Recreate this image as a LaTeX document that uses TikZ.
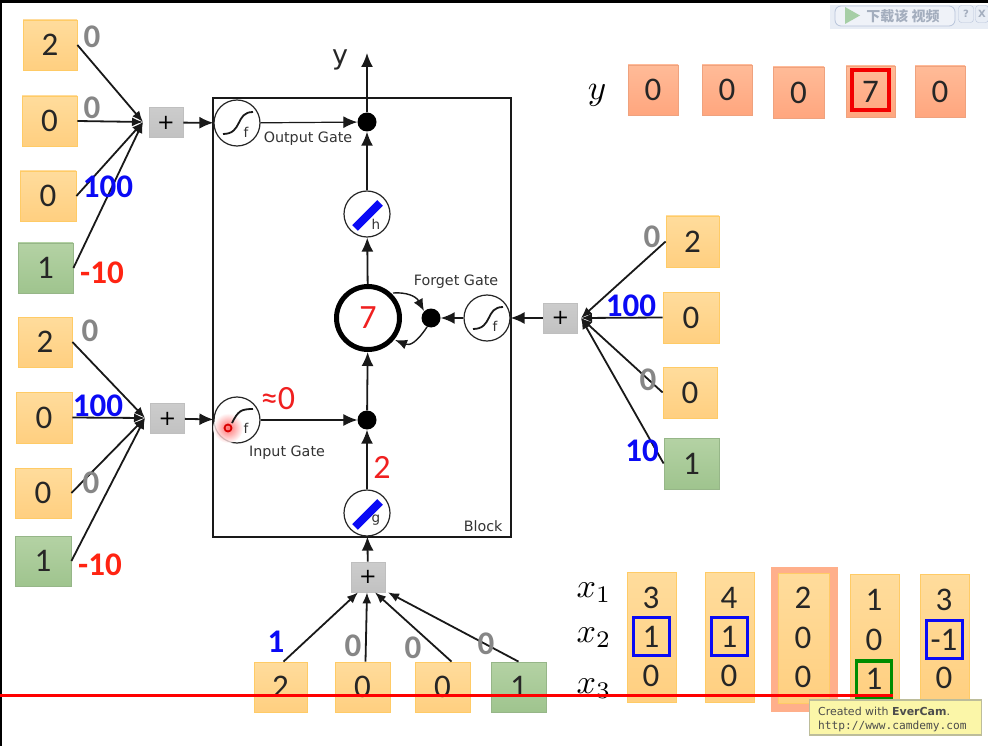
\documentclass[tikz,border=0pt]{standalone}
\usepackage{fontspec}
\setmainfont{Carlito}
\newfontfamily\dv{DejaVu Sans}
\newfontfamily\dvm{DejaVu Sans Mono}
\newfontfamily\cjk{Noto Sans CJK SC}
\usetikzlibrary{arrows.meta,calc}
\definecolor{oT}{HTML}{FFDC9C}\definecolor{oB}{HTML}{FFCF80}\definecolor{oE}{HTML}{FFCB66}
\definecolor{gT}{HTML}{B4D2A4}\definecolor{gB}{HTML}{9FC48E}\definecolor{gE}{HTML}{96B688}
\definecolor{sT}{HTML}{FFBB98}\definecolor{sB}{HTML}{FFA67E}\definecolor{sE}{HTML}{EFA27E}
\definecolor{wgray}{HTML}{868686}\definecolor{wblue}{HTML}{0A0AF5}\definecolor{wred}{HTML}{FF2412}
\definecolor{lred}{HTML}{F02020}\definecolor{txt}{HTML}{333333}
\definecolor{tipfill}{HTML}{FBF6A8}\definecolor{tipedge}{HTML}{BDBD9A}
\definecolor{panel}{HTML}{E8EDF5}\definecolor{panedge}{HTML}{B8C4DA}\definecolor{cjkgray}{HTML}{A4AEBE}
\tikzset{
 numtext/.style={font=\fontsize{33}{33}\selectfont,text=black!85},
 basebox/.style={rectangle,draw,line width=.8pt,inner sep=0pt,numtext},
 obox/.style={basebox,draw=oE,top color=oT,bottom color=oB},
 gbox/.style={basebox,draw=gE,top color=gT,bottom color=gB},
 sbox/.style={basebox,draw=sE,top color=sT,bottom color=sB},
 plusbox/.style={rectangle,draw=black!25,line width=.8pt,top color=black!20,bottom color=black!24,inner sep=0pt,minimum width=34pt,minimum height=30pt,font=\dv\fontsize{21}{21}\selectfont},
 gate/.style={circle,draw=black!85,line width=1.2pt,fill=white,inner sep=0pt,minimum size=46pt},
 dotn/.style={circle,fill=black,inner sep=0pt,minimum size=19pt},
 cell/.style={circle,draw=black,line width=5pt,fill=white,inner sep=0pt,minimum size=63pt},
 conn/.style={line width=1.8pt,black!90,-{Latex[length=14pt,width=12pt]}},
 thinconn/.style={line width=1.2pt,black!90,-{Latex[length=14pt,width=12pt]}},
 wire/.style={line width=1.8pt,black!90,-{Latex[length=11pt,width=9pt]}},
 loopw/.style={line width=1.4pt,black!90,-{Latex[length=12pt,width=10pt]}},
 gatelabel/.style={font=\dv\fontsize{14.3}{14.3}\selectfont,text=txt},
 gateletter/.style={font=\dv\fontsize{13.5}{13.5}\selectfont,text=txt},
 weight/.style={font=\bfseries\fontsize{33}{33}\selectfont},
 wg/.style={weight,text=wgray},wb/.style={weight,text=wblue},wr/.style={weight,text=wred},
 redval/.style={font=\fontsize{34}{34}\selectfont,text=lred},
 hl/.style={draw,line width=3.6pt,fill=none,inner sep=0pt},
 colnum/.style={numtext,inner sep=0pt},
 xlab/.style={scale=3.4,inner sep=0pt},
 sigcurve/.style={line width=1.8pt,black!90}
}
\newcommand{\sigm}[1]{\draw[sigcurve] ($(#1)+(-14,11)$) .. controls ($(#1)+(6,11)$) and ($(#1)+(-2,-11)$) .. ($(#1)+(16,-11)$);}
\begin{document}
\begin{tikzpicture}[x=1pt,y=-1pt]
\useasboundingbox (0,0) rectangle (988,746);
\fill[white] (0,0) rectangle (988,746);
\fill[black] (0,0) rectangle (988,3);
\fill[black] (0,0) rectangle (2,746);

% Block
\node[draw=black!90,line width=2pt,minimum width=298pt,minimum height=439pt,inner sep=0pt] (block) at (362,317.5) {};
\node[gatelabel,anchor=east] (blocklab) at (506,526) {Block};

% gates
\node[gate] (fo) at (237,123) {};
\node[gate] (fi) at (237,420) {};
\node[gate] (ff) at (487,318) {};
\node[gate] (h) at (367,214) {};
\node[gate] (g) at (367,513) {};
\node[dotn] (dout) at (367,122) {};
\node[dotn] (din) at (367,420) {};
\node[dotn] (dfor) at (431,318) {};
\node[cell] (cell) at (368,318) {};
\node[redval] (cellv) at (368,318) {7};
\coordinate (yout) at (367,53);

% input gate highlight
\shade[inner color=red!70,outer color=white,opacity=.8] (228,428) circle (15);
\draw[line width=1.8pt,red!85!black] (228,428) circle (3.5);

% sigmoid curves
\sigm{fo}\sigm{ff}
\draw[sigcurve] (232,423) .. controls (238,411) and (241,409) .. (253,409);
\draw[line width=8pt,wblue] ($(h)+(-12,14)$) -- ($(h)+(13,-11)$);
\draw[line width=8pt,wblue] ($(g)+(-12,14)$) -- ($(g)+(13,-11)$);
\node[gateletter] (lf1) at (246,132) {f};
\node[gateletter] (lf2) at (246,428) {f};
\node[gateletter] (lf3) at (495,326) {f};
\node[gateletter] (lh) at (376,224) {h};
\node[gateletter] (lg) at (376,520) {g};

% gate labels
\node[gatelabel] (lo) at (308,139) {Output Gate};
\node[gatelabel] (li) at (287,453) {Input Gate};
\node[gatelabel] (lff) at (456,282) {Forget Gate};
\node[font=\dv\fontsize{27}{27}\selectfont,text=black!85] (ylab) at (340,60) {y};
\node[redval] (vin) at (278,399) {≈0};
\node[redval] (vg) at (382,467) {2};

% internal connectors
\draw[conn] (dout) -- (yout);
\draw[conn] (h) -- (dout);
\draw[conn] (cell) -- (h);
\draw[conn] (din) -- (cell);
\draw[conn] (g) -- (din);
\draw[thinconn] (fo) -- (dout);
\draw[thinconn] (fi) -- (din);
\draw[conn] (ff) -- (dfor);
\draw[loopw] ($(cell)+(25,-25)$) .. controls ($(cell)+(38,-26)$) and ($(cell)+(48,-22)$) .. ($(dfor)+(-7,-7)$);
\draw[loopw] ($(dfor)+(-4,9)$) .. controls ($(dfor)+(-14,24)$) and ($(cell)+(42,28)$) .. ($(cell)+(27,22)$);

% plus boxes
\node[plusbox] (p1) at (166,122.5) {+};
\node[plusbox] (p2) at (167.5,418.5) {+};
\node[plusbox] (p3) at (560.5,318) {+};
\node[plusbox] (p4) at (368,577) {+};
\draw[conn] (p1) -- (fo);
\draw[conn] (p2) -- (fi);
\draw[conn] (p3) -- (ff);
\draw[conn] (p4) -- (g);
\coordinate (hub1) at (143,122);
\coordinate (hub2) at (145,418);
\coordinate (hub3) at (581,318);

% upper left inputs
\node[obox,minimum width=54pt,minimum height=50pt] (a1) at (50,45) {2};
\node[obox,minimum width=55pt,minimum height=50pt] (a2) at (49.5,121) {0};
\node[obox,minimum width=56pt,minimum height=50pt] (a3) at (48,196) {0};
\node[gbox,minimum width=55pt,minimum height=50pt] (a4) at (45.5,268) {1};
\foreach \n in {a1,a2,a3,a4}{\draw[wire] (\n.east) -- (hub1);}
\node[wg] (wa1) at (92,37) {0};
\node[wg] (wa2) at (92,108) {0};
\node[wb] (wa3) at (108,187) {100};
\node[wr] (wa4) at (102,273) {-10};

% lower left inputs
\node[obox,minimum width=54pt,minimum height=50pt] (b1) at (45,342) {2};
\node[obox,minimum width=56pt,minimum height=51pt] (b2) at (44,417.5) {0};
\node[obox,minimum width=56pt,minimum height=50pt] (b3) at (43,493) {0};
\node[gbox,minimum width=56pt,minimum height=50pt] (b4) at (43,561) {1};
\foreach \n in {b1,b2,b3,b4}{\draw[wire] (\n.east) -- (hub2);}
\node[wg] (wb1) at (90,331) {0};
\node[wb] (wb2) at (98,406) {100};
\node[wg] (wb3) at (91,483) {0};
\node[wr] (wb4) at (100,565) {-10};

% right inputs
\node[obox,minimum width=53pt,minimum height=51pt] (c1) at (692.5,241.5) {2};
\node[obox,minimum width=56pt,minimum height=51pt] (c2) at (691,317.5) {0};
\node[obox,minimum width=54pt,minimum height=51pt] (c3) at (690,392.5) {0};
\node[gbox,minimum width=55pt,minimum height=51pt] (c4) at (691.5,463.5) {1};
\foreach \n in {c1,c2,c3,c4}{\draw[wire] (\n.west) -- (hub3);}
\node[wg] (wc1) at (652,237) {0};
\node[wb] (wc2) at (631,306) {100};
\node[wg] (wc3) at (648,380) {0};
\node[wb] (wc4) at (642,451) {10};

% bottom inputs
\node[obox,minimum width=53pt,minimum height=50pt] (d1) at (280.5,687) {2};
\node[obox,minimum width=55pt,minimum height=50pt] (d2) at (362.5,687) {0};
\node[obox,minimum width=55pt,minimum height=50pt] (d3) at (442.5,687) {0};
\node[gbox,minimum width=55pt,minimum height=50pt] (d4) at (518.5,687) {1};
\draw[wire] ([xshift=3pt]d1.north) -- ([xshift=-10pt]p4.south);
\draw[wire] ([xshift=3pt]d2.north) -- ([xshift=-1pt]p4.south);
\draw[wire] ([xshift=9pt]d3.north) -- ([xshift=7pt]p4.south);
\draw[wire] (d4.north) -- ([xshift=20pt]p4.south);
\node[wb] (wd1) at (276,642) {1};
\node[wg] (wd2) at (353,646) {0};
\node[wg] (wd3) at (413,648) {0};
\node[wg] (wd4) at (486,644) {0};

% output row
\node[scale=3.5] (ymath) at (597,95) {$y$};
\node[sbox,minimum width=50pt,minimum height=50pt] (y1) at (653,90) {0};
\node[sbox,minimum width=50pt,minimum height=50pt] (y2) at (727,90) {0};
\node[sbox,minimum width=51pt,minimum height=51pt] (y3) at (798.5,92.5) {0};
\node[sbox,minimum width=49pt,minimum height=51pt] (y4) at (870.5,91.5) {7};
\node[sbox,minimum width=50pt,minimum height=51pt] (y5) at (940,91.5) {0};
\node[hl,draw=red!95!black,minimum width=37pt,minimum height=40pt] (ymark) at (870.5,90) {};

% input sequence
\node[rectangle,fill=sB!90,inner sep=0pt,minimum width=67pt,minimum height=145pt] (halo) at (804.5,639.5) {};
\node[obox,minimum width=49pt,minimum height=130pt] (col1) at (651.5,637) {};
\node[obox,minimum width=49pt,minimum height=130pt] (col2) at (729.5,637) {};
\node[obox,minimum width=51pt,minimum height=130pt] (col3) at (803.5,638) {};
\node[obox,minimum width=49pt,minimum height=128pt] (col4) at (874.5,638) {};
\node[obox,minimum width=49pt,minimum height=129pt] (col5) at (944.5,638.5) {};
\node[colnum] (n11) at (651,598) {3};
\node[colnum] (n12) at (651,637) {1};
\node[colnum] (n13) at (651,676) {0};
\node[colnum] (n21) at (729,598) {4};
\node[colnum] (n22) at (729,637) {1};
\node[colnum] (n23) at (729,676) {0};
\node[colnum] (n31) at (803,598) {2};
\node[colnum] (n32) at (803,638) {0};
\node[colnum] (n33) at (803,677) {0};
\node[colnum] (n41) at (874,600) {1};
\node[colnum] (n42) at (874,640) {0};
\node[colnum] (n43) at (874,679) {1};
\node[colnum] (n51) at (944,600) {3};
\node[colnum] (n52) at (944,640) {-1};
\node[colnum] (n53) at (944,678) {0};
\node[hl,draw=wblue,minimum width=36pt,minimum height=38pt] (m1) at (651.5,636.5) {};
\node[hl,draw=wblue,minimum width=36pt,minimum height=38pt] (m2) at (729.5,636.5) {};
\node[hl,draw=wblue,minimum width=36pt,minimum height=38pt] (m3) at (944.5,639.5) {};
\node[hl,draw=green!55!black,minimum width=35pt,minimum height=38pt] (m4) at (874,680) {};
\node[xlab] (x1) at (594,593) {$x_1$};
\node[xlab] (x2) at (594,638) {$x_2$};
\node[xlab] (x3) at (594,689) {$x_3$};

% red line
\draw[line width=3pt,red] (0,695.5) -- (893,695.5);

% tooltip
\node[rectangle,draw=tipedge,line width=1.5pt,fill=tipfill,minimum width=172pt,minimum height=35pt,inner sep=0pt] (tip) at (895.5,717.5) {};
\node[anchor=west,inner sep=0pt,text=black!70,font=\dv\fontsize{11}{11}\selectfont] (tip1) at (818,711) {Created with {\bfseries EverCam}.};
\node[anchor=west,inner sep=0pt,text=black!70,font=\dvm\fontsize{11.2}{11.2}\selectfont] (tip2) at (818,726) {http://www.camdemy.com};

% player button
\fill[panel] (830,5) rectangle (988,29);
\draw[line width=.8pt,panedge,fill=panel!70!white,rounded corners=6pt] (835,6) rectangle (955,26);
\fill[green!45!black!35!white] (845,7) -- (860,15.5) -- (845,24) -- cycle;
\node[font=\cjk\bfseries\fontsize{14}{14}\selectfont,text=cjkgray] (btn) at (903,16) {下载该 视频};
\node[rectangle,rounded corners=3pt,draw=panedge,fill=panel,inner sep=0pt,minimum width=15pt,minimum height=17pt,font=\dv\bfseries\fontsize{10}{10}\selectfont,text=cjkgray] (qbtn) at (966,14) {?};
\node[rectangle,rounded corners=3pt,draw=panedge,fill=panel,inner sep=0pt,minimum width=13pt,minimum height=17pt,font=\dv\bfseries\fontsize{10}{10}\selectfont,text=cjkgray] (xbtn) at (982,14) {X};
\end{tikzpicture}
\end{document}
